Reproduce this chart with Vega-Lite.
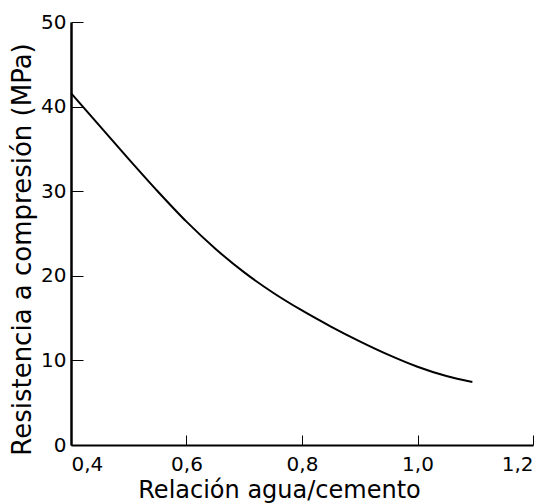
{
  "$schema": "https://vega.github.io/schema/vega-lite/v6.json",
  "width": 462,
  "height": 423,
  "autosize": "none",
  "padding": {"left": 71, "top": 22, "right": 17, "bottom": 59},
  "background": "white",
  "config": {
    "view": {"stroke": null},
    "font": "DejaVu Sans",
    "axis": {"grid": false, "domainColor": "black", "tickColor": "black", "labelColor": "black", "titleColor": "black", "labelFont": "DejaVu Sans", "titleFont": "DejaVu Sans", "titleFontWeight": "normal"}
  },
  "data": {
    "values": [
      {"wc": 0.40, "fc": 41.6},
      {"wc": 0.45, "fc": 37.7},
      {"wc": 0.50, "fc": 33.8},
      {"wc": 0.55, "fc": 30.0},
      {"wc": 0.60, "fc": 26.4},
      {"wc": 0.65, "fc": 23.2},
      {"wc": 0.70, "fc": 20.4},
      {"wc": 0.75, "fc": 18.0},
      {"wc": 0.80, "fc": 15.9},
      {"wc": 0.85, "fc": 14.0},
      {"wc": 0.90, "fc": 12.25},
      {"wc": 0.95, "fc": 10.65},
      {"wc": 1.00, "fc": 9.25},
      {"wc": 1.05, "fc": 8.15},
      {"wc": 1.095, "fc": 7.45}
    ]
  },
  "mark": {"type": "line", "color": "black", "strokeWidth": 2, "interpolate": "monotone", "clip": false},
  "encoding": {
    "x": {
      "field": "wc", "type": "quantitative",
      "scale": {"domain": [0.4, 1.2], "nice": false, "zero": false},
      "axis": {
        "title": "Relación agua/cemento",
        "values": [0.4, 0.6, 0.8, 1.0, 1.2],
        "labelExpr": "replace(format(datum.value, '.1f'), '.', ',')",
        "labelFontSize": 20, "labelPadding": 19,
        "tickSize": -10, "tickWidth": 1,
        "domainWidth": 2,
        "titleFontSize": 24, "titleX": 208, "titleY": 52, "titleBaseline": "alphabetic", "titleAlign": "center"
      }
    },
    "y": {
      "field": "fc", "type": "quantitative",
      "scale": {"domain": [0, 50], "nice": false},
      "axis": {
        "title": "Resistencia a compresión (MPa)",
        "values": [0, 10, 20, 30, 40, 50],
        "labelFontSize": 20, "labelPadding": 17,
        "tickSize": -12, "tickWidth": 1,
        "domainWidth": 2.5,
        "titleFontSize": 26, "titleX": -36, "titleY": 227, "titleAngle": -90, "titleBaseline": "bottom", "titleAlign": "center"
      }
    }
  }
}
